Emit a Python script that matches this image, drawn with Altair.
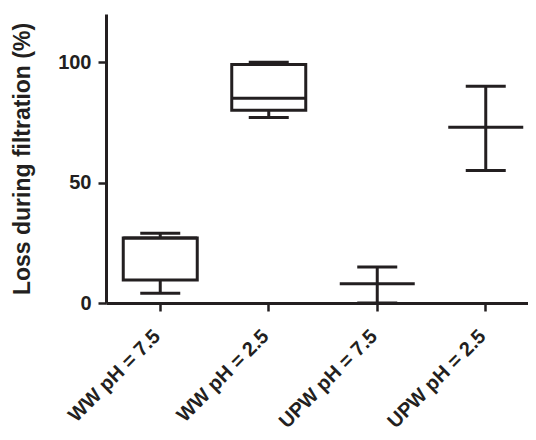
import altair as alt
import pandas as pd

categories = ["WW pH = 7.5", "WW pH = 2.5", "UPW pH = 7.5", "UPW pH = 2.5"]

# box plots (WW groups)
box_cats = ["WW pH = 7.5", "WW pH = 2.5"]
box_min = [4, 77]
box_q1 = [9.5, 80]
box_median = [27, 85]
box_q3 = [27, 99]
box_max = [29, 100]

# mean with range (UPW groups)
err_cats = ["UPW pH = 7.5", "UPW pH = 2.5"]
err_mean = [8, 73]
err_low = [0, 55]
err_high = [15, 90]

INK = "#231f20"
FONT = "Liberation Sans"

box_df = pd.DataFrame({"cat": box_cats, "lo": box_min, "q1": box_q1,
                       "med": box_median, "q3": box_q3, "hi": box_max})
err_df = pd.DataFrame({"cat": err_cats, "mean": err_mean, "lo": err_low, "hi": err_high})

x_enc = alt.X("cat:N", sort=categories,
              scale=alt.Scale(type="band", domain=categories, paddingInner=0, paddingOuter=0,
                              range=[0, 434]),
              axis=alt.Axis(title=None, labelAngle=-45, labelAlign="right", labelBaseline="middle",
                            labelFontSize=20, labelFontWeight="bold", labelFont=FONT, labelColor=INK,
                            labelPadding=22, labelOffset=-3,
                            domainColor=INK, domainWidth=3, tickColor=INK, tickWidth=2.5, tickSize=8))
y_scale = alt.Scale(domain=[0, 120], nice=False, zero=True)
y_axis = alt.Axis(title="Loss during filtration (%)", values=[0, 50, 100], grid=False,
                  titleFontSize=23, titleFontWeight="bold", titleFont=FONT, titleColor=INK,
                  titlePadding=23,
                  labelFontSize=20, labelFontWeight="bold", labelFont=FONT, labelColor=INK,
                  labelPadding=7,
                  domainColor=INK, domainWidth=3, tickColor=INK, tickWidth=2.5, tickSize=8)

box_base = alt.Chart(box_df)
whisk_lo = box_base.mark_rule(color=INK, strokeWidth=3).encode(
    x=x_enc, y=alt.Y("lo:Q", scale=y_scale, axis=y_axis), y2="q1:Q")
whisk_hi = box_base.mark_rule(color=INK, strokeWidth=3).encode(
    x=x_enc, y=alt.Y("q3:Q", scale=y_scale, axis=y_axis), y2="hi:Q")
box = box_base.mark_bar(width=74, fill="white", stroke=INK, strokeWidth=3, opacity=1).encode(
    x=x_enc, y=alt.Y("q1:Q", scale=y_scale, axis=y_axis), y2="q3:Q")
med = box_base.mark_tick(color=INK, size=74, thickness=3, opacity=1).encode(
    x=x_enc, y=alt.Y("med:Q", scale=y_scale, axis=y_axis))
cap_lo = box_base.mark_tick(color=INK, size=40, thickness=3, opacity=1).encode(
    x=x_enc, y=alt.Y("lo:Q", scale=y_scale, axis=y_axis))
cap_hi = box_base.mark_tick(color=INK, size=40, thickness=3, opacity=1).encode(
    x=x_enc, y=alt.Y("hi:Q", scale=y_scale, axis=y_axis))

err_base = alt.Chart(err_df)
err_rule = err_base.mark_rule(color=INK, strokeWidth=3).encode(
    x=x_enc, y=alt.Y("lo:Q", scale=y_scale, axis=y_axis), y2="hi:Q")
err_mean_t = err_base.mark_tick(color=INK, size=75, thickness=3, opacity=1).encode(
    x=x_enc, y=alt.Y("mean:Q", scale=y_scale, axis=y_axis))
err_cap_lo = err_base.mark_tick(color=INK, size=40, thickness=3, opacity=1).encode(
    x=x_enc, y=alt.Y("lo:Q", scale=y_scale, axis=y_axis))
err_cap_hi = err_base.mark_tick(color=INK, size=40, thickness=3, opacity=1).encode(
    x=x_enc, y=alt.Y("hi:Q", scale=y_scale, axis=y_axis))

chart = alt.layer(
    whisk_lo, whisk_hi, box, med, cap_lo, cap_hi,
    err_rule, err_mean_t, err_cap_lo, err_cap_hi
).properties(
    width=422, height=289,
    autosize=alt.AutoSizeParams(type="none"),
    padding={"left": 98, "top": 6, "right": 0, "bottom": 129},
    background="white",
).configure_view(stroke=None)

chart.save("out.html", embed_options={"renderer": "svg", "actions": False})
